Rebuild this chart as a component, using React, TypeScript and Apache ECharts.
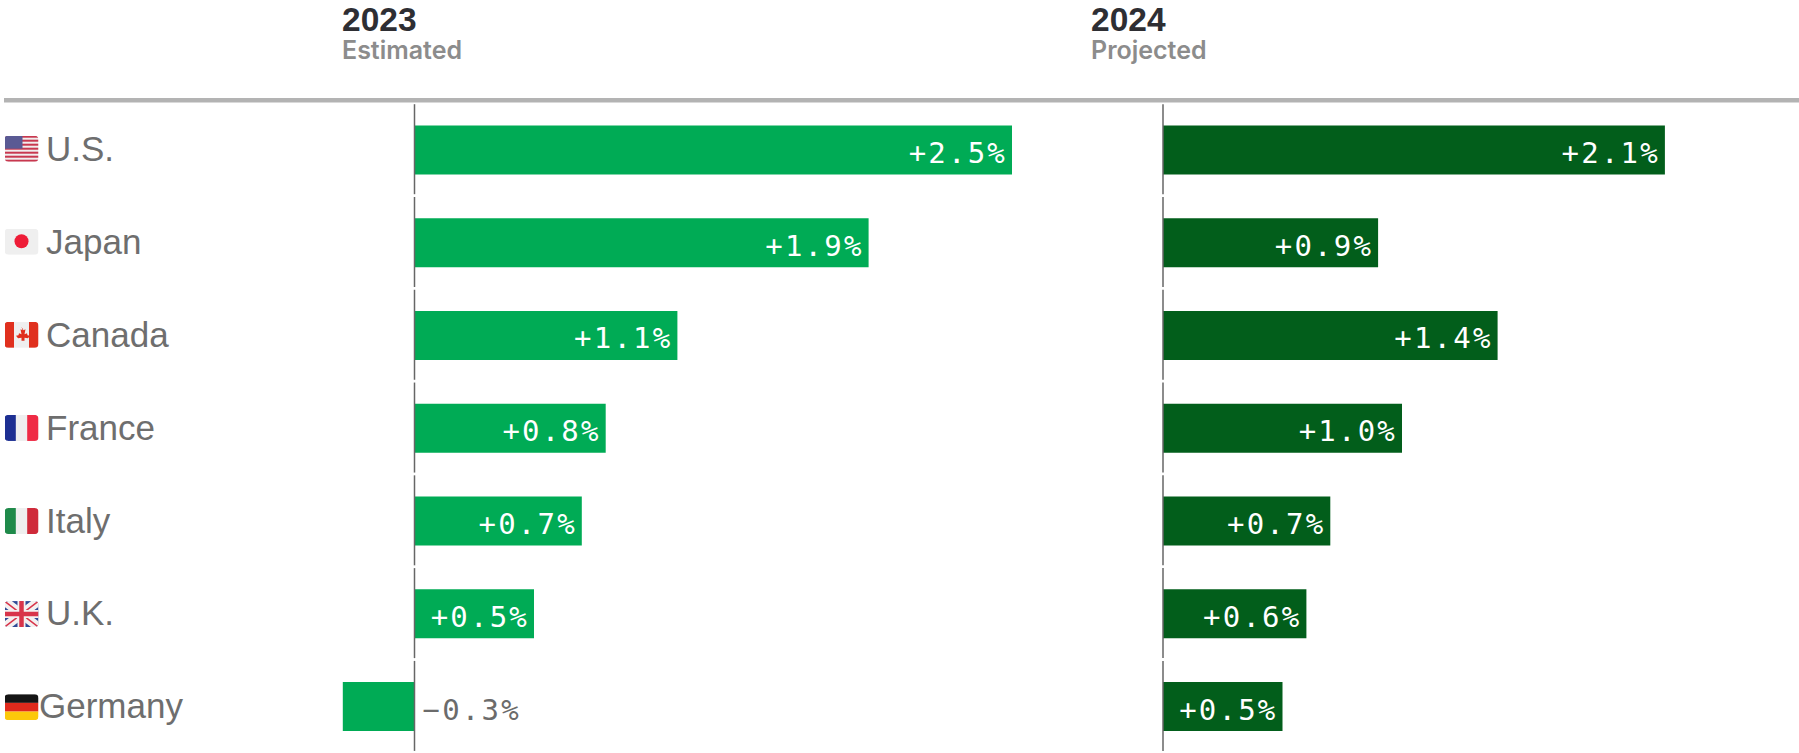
import React, { useEffect, useRef } from "react";
import * as echarts from "echarts";

const categories = ["U.S.", "Japan", "Canada", "France", "Italy", "U.K.", "Germany"];
const values2023 = [2.5, 1.9, 1.1, 0.8, 0.7, 0.5, -0.3];
const values2024 = [2.1, 0.9, 1.4, 1.0, 0.7, 0.6, 0.5];
const headers = [
  { year: "2023", note: "Estimated", x: 342 },
  { year: "2024", note: "Projected", x: 1091 },
];

const GREEN = "#00ab55";
const DARK = "#025e1b";
const MONO = "'DejaVu Sans Mono', monospace";
const SANS = "'Liberation Sans', Arial, sans-serif";

const svg = (body: string) =>
  "data:image/svg+xml;utf8," +
  encodeURIComponent(
    `<svg xmlns="http://www.w3.org/2000/svg" width="34" height="26" viewBox="0 0 34 26"><defs><clipPath id="c"><rect width="34" height="26" rx="4"/></clipPath></defs><g clip-path="url(#c)">${body}</g></svg>`
  );

const stripes = Array.from({ length: 7 }, (_, i) => `<rect y="${(i * 26) / 6.5}" width="34" height="2" fill="#c8384f"/>`).join("");
const flags: string[] = [
  svg(`<rect width="34" height="26" fill="#f1eeee"/>${stripes}<rect width="18" height="13" fill="#5a5a94"/>`),
  svg(`<rect width="34" height="26" fill="#efefef"/><circle cx="17" cy="12.5" r="7" fill="#ee1c37"/>`),
  svg(`<rect width="34" height="26" fill="#efefef"/><rect width="9.5" height="26" fill="#e0301e"/><rect x="24.5" width="9.5" height="26" fill="#e0301e"/><path d="M17 5l2 3.5 2-1-1 5 2.500-1 .5 2 2.500.5-2 2.500-3.500-.5v3h-3v-3l-3.500.5-2-2.500 2.500-.5.5-2 2.500 1-1-5 2 1z" fill="#e0301e"/>`),
  svg(`<rect width="34" height="26" fill="#efefef"/><rect width="11.300" height="26" fill="#1d2f92"/><rect x="22.700" width="11.300" height="26" fill="#ef2b45"/>`),
  svg(`<rect width="34" height="26" fill="#efefef"/><rect width="11.300" height="26" fill="#1f8a4a"/><rect x="22.700" width="11.300" height="26" fill="#cf2a3a"/>`),
  svg(`<rect width="34" height="26" fill="#2f4a96"/><path d="M0 0L34 26M34 0L0 26" stroke="#f4f0f0" stroke-width="9"/><path d="M0 0L34 26M34 0L0 26" stroke="#d8344a" stroke-width="1.500"/><path d="M17 0V26M0 13H34" stroke="#f4f0f0" stroke-width="8"/><path d="M17 0V26M0 13H34" stroke="#d8344a" stroke-width="4.500"/>`),
  svg(`<rect width="34" height="8.700" fill="#151515"/><rect y="8.700" width="34" height="8.700" fill="#e02a1c"/><rect y="17.400" width="34" height="8.600" fill="#fcc90a"/>`),
];

const fmt = (v: number) => (v >= 0 ? "+" : "\u2212") + Math.abs(v).toFixed(1) + "%";

const zeroLine = (gridIndex: number) => ({
  type: "custom" as const,
  xAxisIndex: gridIndex,
  yAxisIndex: gridIndex,
  z: 5,
  silent: true,
  data: categories.map((_, i) => [0, i]),
  encode: { x: 0, y: 1 },
  renderItem: (_: any, api: any) => {
    const p = api.coord([0, api.value(1)]);
    return {
      type: "line",
      shape: { x1: p[0], y1: p[1] - 45.7, x2: p[0], y2: p[1] + 44.3 },
      style: { stroke: "#666666", lineWidth: 1.5 },
    };
  },
});

const barSeries = (gridIndex: number, values: number[], color: string) => ({
  type: "bar" as const,
  xAxisIndex: gridIndex,
  yAxisIndex: gridIndex,
  barWidth: 49,
  itemStyle: { color },
  data: values.map((v) => ({
    value: v,
    label:
      v >= 0
        ? { position: "insideRight" as const, distance: 5, color: "#ffffff" }
        : { position: "right" as const, distance: 8, color: "#6b6b6b" },
  })),
  label: {
    show: true,
    fontFamily: MONO,
    fontSize: 29,
    offset: [0, 3],
    formatter: (p: any) => fmt(p.value),
  },
});

export default function App() {
  const ref = useRef<HTMLDivElement>(null);
  useEffect(() => {
    document.body.style.margin = "0";
    document.documentElement.style.overflow = "hidden";
    const chart = echarts.init(ref.current!, undefined, { renderer: "svg" });
    const catAxis = (gridIndex: number, show: boolean) => ({
      type: "category" as const,
      gridIndex,
      inverse: true,
      data: categories,
      position: "left" as const,
      axisLine: { show: false, onZero: false },
      axisTick: { show: false },
      axisLabel: show
        ? {
            show: true,
            align: "left" as const,
            margin: 256,
            formatter: (v: string) => (v === "Germany" ? `{g|${v}}` : `{a|${v}}`),
            rich: {
              a: { fontFamily: SANS, fontSize: 35, color: "#6e6e6e", padding: [0, 0, 2, 7] },
              g: { fontFamily: SANS, fontSize: 35, color: "#6e6e6e", padding: [0, 0, 2, 0] },
            },
          }
        : { show: false },
    });
    const valAxis = (gridIndex: number, min: number, max: number) => ({
      type: "value" as const,
      gridIndex,
      min,
      max,
      show: false,
    });
    chart.setOption({
      animation: false,
      backgroundColor: "#ffffff",
      grid: [
        { left: 295, top: 103.5, width: 239 * 3.25, height: 651.5 },
        { left: 1163, top: 103.5, width: 239 * 2.5, height: 651.5 },
      ],
      xAxis: [valAxis(0, -0.5, 2.75), valAxis(1, 0, 2.5)],
      yAxis: [catAxis(0, true), catAxis(1, false)],
      series: [
        barSeries(0, values2023, GREEN),
        barSeries(1, values2024, DARK),
        zeroLine(0),
        zeroLine(1),
      ],
      graphic: [
        { type: "rect", shape: { x: 4, y: 98, width: 1795, height: 4.5 }, style: { fill: "#b3b3b3" } },
        ...headers.flatMap((h) => [
          {
            type: "text",
            x: h.x,
            y: 2,
            style: { text: h.year, fontFamily: SANS, fontWeight: "bold", fontSize: 33.5, fill: "#2e2e33" },
          },
          {
            type: "text",
            x: h.x,
            y: 37,
            style: { text: h.note, fontFamily: "Inter, sans-serif", fontWeight: 600, fontSize: 25, fill: "#8c8c8c" },
          },
        ]),
        ...flags.map((image, i) => ({
          type: "image",
          x: 4.5,
          y: 135.7 + i * 93.08,
          style: { image, width: 34, height: 26 },
        })),
      ],
    });
    return () => chart.dispose();
  }, []);
  return (
    <>
      <style>{`svg text[style*="DejaVu"]{letter-spacing:2.2px}`}</style>
      <div ref={ref} style={{ position: "absolute", left: 0, top: 0, width: 1799, height: 753 }} />
    </>
  );
}
